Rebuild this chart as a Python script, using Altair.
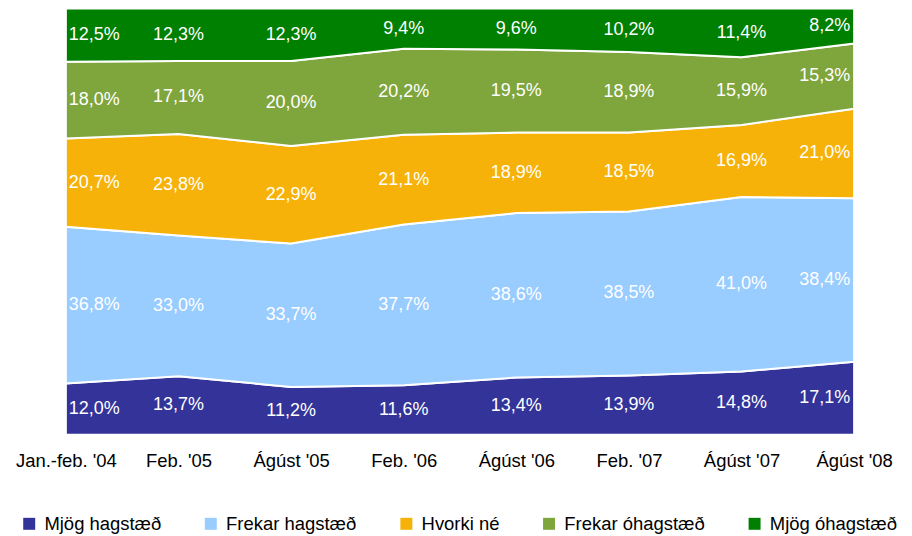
import altair as alt
import pandas as pd

cats = ["Jan.-feb. '04", "Feb. '05", "Ágúst '05", "Feb. '06", "Ágúst '06", "Feb. '07", "Ágúst '07", "Ágúst '08"]
series = ["Mjög hagstæð", "Frekar hagstæð", "Hvorki né", "Frekar óhagstæð", "Mjög óhagstæð"]
colors = ["#333399", "#99CCFF", "#F7B20A", "#7FA53D", "#008000"]

mjog_hag = [12.0, 13.7, 11.2, 11.6, 13.4, 13.9, 14.8, 17.1]
frekar_hag = [36.8, 33.0, 33.7, 37.7, 38.6, 38.5, 41.0, 38.4]
hvorki = [20.7, 23.8, 22.9, 21.1, 18.9, 18.5, 16.9, 21.0]
frekar_oh = [18.0, 17.1, 20.0, 20.2, 19.5, 18.9, 15.9, 15.3]
mjog_oh = [12.5, 12.3, 12.3, 9.4, 9.6, 10.2, 11.4, 8.2]

vals = [mjog_hag, frekar_hag, hvorki, frekar_oh, mjog_oh]
rows = []
for si, (s, vs) in enumerate(zip(series, vals)):
    for ci, (c, v) in enumerate(zip(cats, vs)):
        rows.append({"cat": c, "ci": ci, "series": s, "order": si, "value": v,
                     "label": f"{v:.1f}".replace(".", ",") + "%"})
df = pd.DataFrame(rows)

FONT = "Liberation Sans"

x_enc = alt.X("cat:N", sort=cats, scale=alt.Scale(padding=0),
              axis=alt.Axis(title=None, labelAngle=0, domain=False, ticks=False,
                            labelFontSize=18.5, labelPadding=17, labelColor="black",
                            labelFont=FONT))

area = alt.Chart(df).mark_area(stroke="white", strokeWidth=2).encode(
    x=x_enc,
    y=alt.Y("value:Q", stack="normalize", axis=None),
    color=alt.Color("series:N", sort=series,
                    scale=alt.Scale(domain=series, range=colors),
                    legend=alt.Legend(title=None, orient="none", direction="horizontal",
                                      legendX=-46, legendY=507, symbolType="square",
                                      symbolSize=144, symbolStrokeWidth=0,
                                      labelFontSize=18.5, labelFont=FONT, labelColor="black",
                                      columnPadding=40, labelOffset=6, padding=0,
                                      labelLimit=300)),
    order=alt.Order("order:Q", sort="ascending"),
)

base_text = alt.Chart(df).transform_stack(
    stack="value", groupby=["cat"], as_=["y0", "y1"],
    sort=[alt.SortField("order", order="ascending")], offset="normalize"
).transform_calculate(mid="(datum.y0 + datum.y1) / 2")

def text_layer(filt, align, dx):
    return base_text.transform_filter(filt).mark_text(
        align=align, baseline="middle", dx=dx, fontSize=18, font=FONT, color="white"
    ).encode(
        x=alt.X("cat:N", sort=cats, scale=alt.Scale(padding=0)),
        y=alt.Y("mid:Q", scale=alt.Scale(domain=[0, 1]), axis=None),
        text="label:N",
    )

t_first = text_layer("datum.ci == 0", "left", 3)
t_mid = text_layer("datum.ci > 0 && datum.ci < 7", "center", 0)
t_last = text_layer("datum.ci == 7", "right", -4)

chart = alt.layer(area, t_first, t_mid, t_last).properties(
    width=790, height=427,
    autosize=alt.AutoSizeParams(type="none"),
    padding={"left": 58, "top": 0, "right": 50, "bottom": 100},
).configure_view(stroke=None)

chart.save("out.html", embed_options={"renderer": "svg", "actions": False})
